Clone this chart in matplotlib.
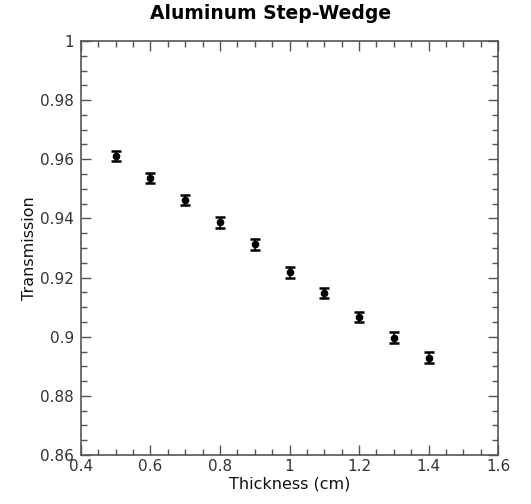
import matplotlib
matplotlib.use("Agg")
import matplotlib.pyplot as plt
from matplotlib.ticker import MultipleLocator

thickness = [0.5, 0.6, 0.7, 0.8, 0.9, 1.0, 1.1, 1.2, 1.3, 1.4]
transmission = [0.9611, 0.9537, 0.9462, 0.9387, 0.9312, 0.9218, 0.9148, 0.9067, 0.8997, 0.8929]
error = [0.0018, 0.0018, 0.0018, 0.0018, 0.0018, 0.0018, 0.0018, 0.0018, 0.0018, 0.0018]
xticks = [0.4, 0.6, 0.8, 1.0, 1.2, 1.4, 1.6]
xtick_labels = ['0.4', '0.6', '0.8', '1', '1.2', '1.4', '1.6']
yticks = [0.86, 0.88, 0.9, 0.92, 0.94, 0.96, 0.98, 1.0]
ytick_labels = ['0.86', '0.88', '0.9', '0.92', '0.94', '0.96', '0.98', '1']

plt.rcParams['font.family'] = ['DejaVu Sans']

fig = plt.figure(figsize=(5.31, 5.04), dpi=100)
ax = fig.add_axes([0.1525, 0.0972, 0.7855, 0.8215])

ax.errorbar(thickness, transmission, yerr=error, fmt='o', color='black',
            markersize=4.5, capsize=3.5, elinewidth=1.2, capthick=1.8)

ax.set_xlim(0.4, 1.6)
ax.set_ylim(0.86, 1.0)
ax.set_xticks(xticks)
ax.set_xticklabels(xtick_labels)
ax.set_yticks(yticks)
ax.set_yticklabels(ytick_labels)
ax.xaxis.set_minor_locator(MultipleLocator(0.05))
ax.yaxis.set_minor_locator(MultipleLocator(0.005))

ax.tick_params(which='both', direction='in', top=True, right=True,
               colors='#555555', labelcolor='#333333', labelsize=11)
ax.tick_params(which='major', length=7, width=1)
ax.tick_params(axis='y', which='major', pad=5)
ax.tick_params(axis='x', which='major', pad=3)
ax.tick_params(which='minor', length=4.5, width=1)
for s in ax.spines.values():
    s.set_color('#555555')
    s.set_linewidth(1.2)

ax.set_xlabel('Thickness (cm)', fontsize=11.5, color='#111111', labelpad=2)
ax.set_ylabel('Transmission', fontsize=11.5, color='#111111', labelpad=2)
fig.text(0.51, 0.974, 'Aluminum Step-Wedge', fontsize=13.5, fontweight='bold',
         ha='center', va='center')

fig.savefig('out.png', dpi=100)
